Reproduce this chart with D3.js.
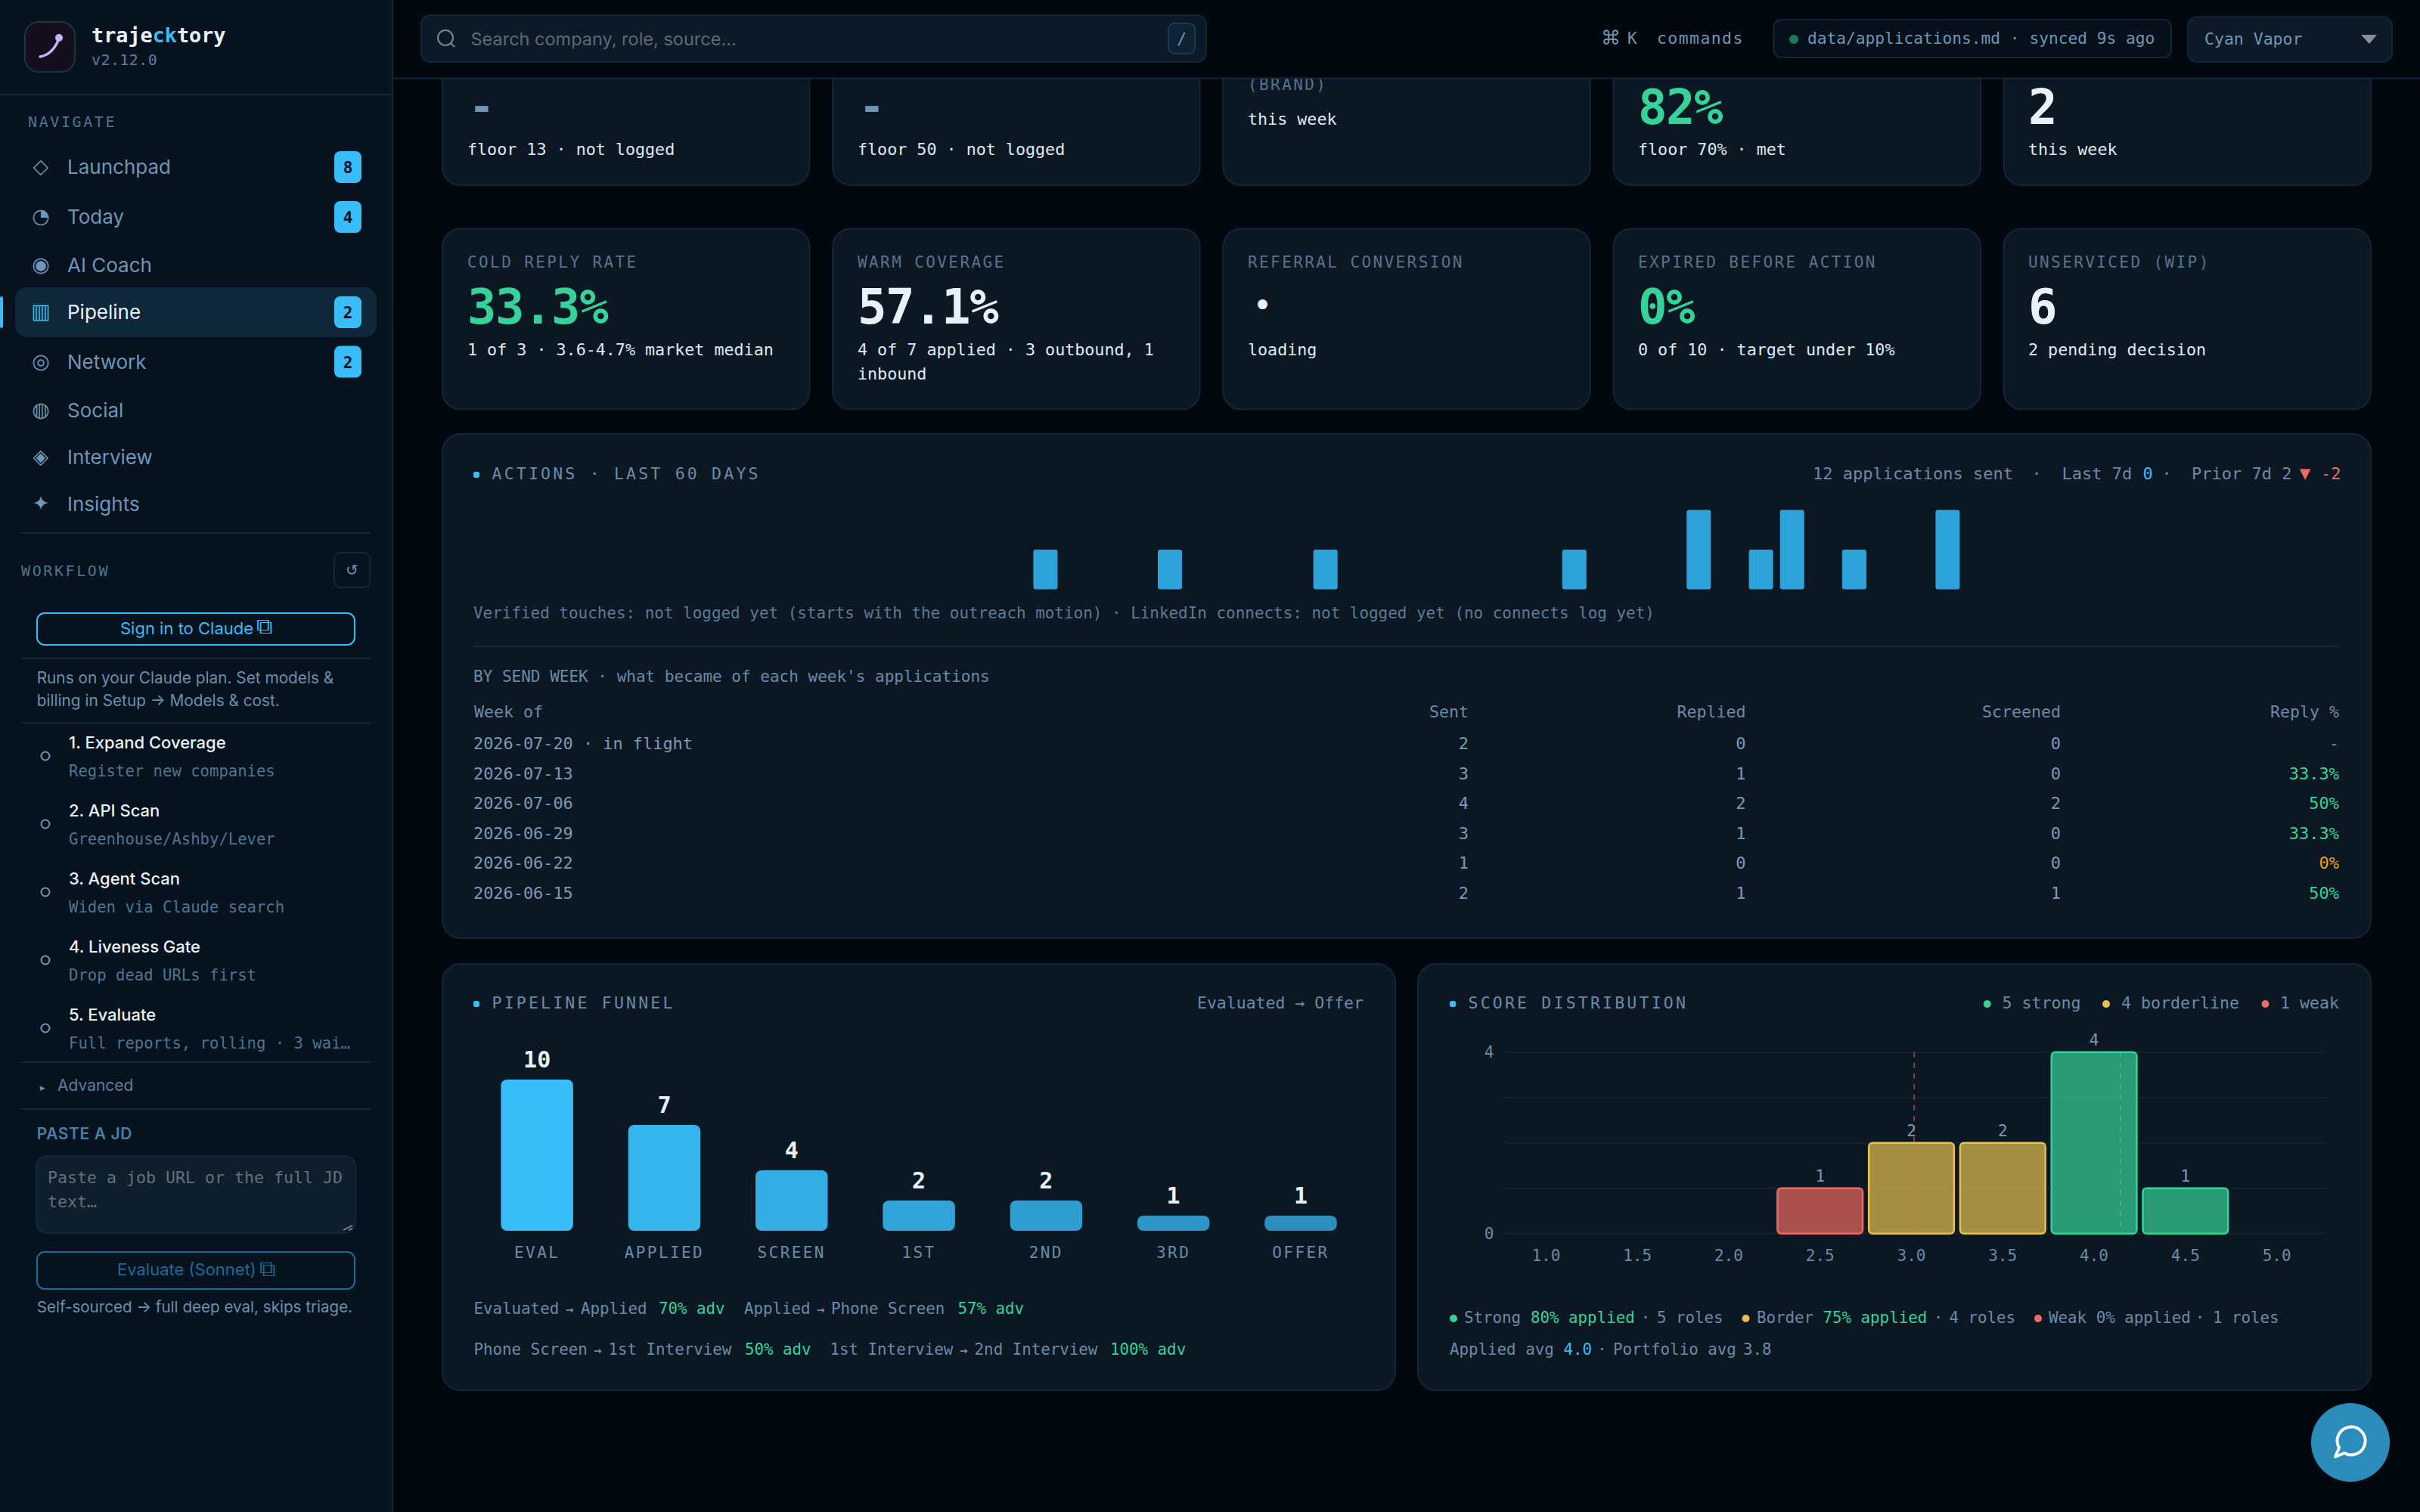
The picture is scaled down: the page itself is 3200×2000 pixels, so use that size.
<!doctype html>
<html>
<head>
<meta charset="utf-8">
<title>trajecktory</title>
<script src="https://cdn.jsdelivr.net/npm/d3@7/dist/d3.min.js"></script>
<style>
  html, body { margin: 0; padding: 0; background: #03080e; }
  svg { display: block; }
</style>
</head>
<body>
<div id="app"></div>
<script>
// chart values
const dailyActions = [0,0,0,0,0,0,0,0,0,0,0,0,0,0,0,0,0,0,1,0,0,0,1,0,0,0,0,1,0,0,0,0,0,0,0,1,0,0,0,2,0,1,2,0,1,0,0,2,0,0,0,0,0,0,0,0,0,0,0,0];
const weekLabels = ["2026-07-20 · in flight","2026-07-13","2026-07-06","2026-06-29","2026-06-22","2026-06-15"];
const weekSent = [2,3,4,3,1,2];
const weekReplied = [0,1,2,1,0,1];
const weekScreened = [0,0,2,0,0,1];
const weekReply = ["-","33.3%","50%","33.3%","0%","50%"];
const funnelStages = ["EVAL","APPLIED","SCREEN","1ST","2ND","3RD","OFFER"];
const funnelValues = [10,7,4,2,2,1,1];
const scoreBins = ["1.0","1.5","2.0","2.5","3.0","3.5","4.0","4.5","5.0"];
const scoreCounts = [0,0,0,1,2,2,4,1,0];
const scoreBands = ["none","none","none","weak","border","border","strong","strong","none"];
const scoreRefLines = [3.015,4.145];
const navLabels = ["Launchpad","Today","AI Coach","Pipeline","Network","Social","Interview","Insights"];
const navGlyphs = ["◇","◔","◉","▥","◎","◍","◈","✦"];
const navBadges = [8,4,null,2,2,null,null,null];
const stepTitles = ["1. Expand Coverage","2. API Scan","3. Agent Scan","4. Liveness Gate","5. Evaluate"];
const stepSubs = ["Register new companies","Greenhouse/Ashby/Lever","Widen via Claude search","Drop dead URLs first","Full reports, rolling · 3 wai…"];

const MONO = '"DejaVu Sans Mono", monospace', SANS = 'Inter, sans-serif', SYM = '"DejaVu Sans"';
const BLUE = "#38bdf8", GREEN = "#34d399", YELLOW = "#e6c14f", RED = "#ee6a62", ORANGE = "#f59e0b";
const MUTED = "#6b8aa6", DIM = "#56728c", NAVC = "#6f96b5", LIGHT = "#dfe9f2", WHITE = "#e8f1f8";
const CARD = "#0b1824", EDGE = "#13253a";
const bandColor = {weak: RED, border: YELLOW, strong: GREEN, none: MUTED};

const svg = d3.select("#app").append("svg").attr("width", 3200).attr("height", 2000);

function txt(parent, x, y, s, o) {
  o = o || {};
  return parent.append("text").attr("x", x).attr("y", y).text(s)
    .attr("fill", o.c || MUTED)
    .attr("font-family", o.f || MONO)
    .attr("font-size", o.s || 21)
    .attr("font-weight", o.w || 400)
    .attr("text-anchor", o.a || "start")
    .style("letter-spacing", o.ls ? o.ls + "px" : null);
}
function box(parent, x0, y0, x1, y1, r, fill, stroke, sw) {
  return parent.append("rect").attr("x", x0).attr("y", y0).attr("width", x1 - x0).attr("height", y1 - y0)
    .attr("rx", r).attr("fill", fill).attr("stroke", stroke || "none").attr("stroke-width", sw || 2);
}
function hline(parent, x0, x1, y, c) {
  parent.append("line").attr("x1", x0).attr("x2", x1).attr("y1", y).attr("y2", y)
    .attr("stroke", c || EDGE).attr("stroke-width", 2);
}
function seq(parent, y, parts, size) {
  parts.forEach(p => txt(parent, p[0], y, p[1], {c: p[2] || MUTED, s: p[3] || size || 20.8, a: p[4], w: p[5]}));
}
function cardTitle(parent, x, y, s) {
  box(parent, x, y - 10, x + 8, y - 2, 2.5, BLUE);
  txt(parent, x + 24.5, y, s, {s: 21.5, ls: 3.2, c: MUTED});
}

// KPI cards
const main = svg.append("g");
const cardX = d3.scaleBand().domain(d3.range(5)).range([585, 3135]).paddingInner(0.0597).paddingOuter(0);
d3.range(5).forEach(i => {
  box(main, cardX(i), -40, cardX(i) + cardX.bandwidth(), 245, 24, CARD, EDGE);
  box(main, cardX(i), 302.5, cardX(i) + cardX.bandwidth(), 541.5, 24, CARD, EDGE);
});
const bigVal = (x, y, s, c) => txt(main, x, y, s, {s: 64, w: 700, c: c, ls: -1.5});
const dashVal = (x) => txt(main, x, 160, "-", {s: 56, w: 700, c: NAVC});
const kpiSub = (x, y, s) => txt(main, x, y, s, {s: 21.7, c: LIGHT});
const kpiLabel = (x, s) => txt(main, x, 353.5, s, {s: 21, ls: 2.4, c: DIM});
dashVal(620); kpiSub(618, 205, "floor 13 · not logged");
dashVal(1136); kpiSub(1134, 205, "floor 50 · not logged");
txt(main, 1650, 119, "(BRAND)", {s: 21, ls: 2.4, c: DIM}); kpiSub(1650, 165, "this week");
bigVal(2166, 164, "82%", GREEN); kpiSub(2166, 205, "floor 70% · met");
bigVal(2682, 164, "2", WHITE); kpiSub(2682, 205, "this week");

kpiLabel(618, "COLD REPLY RATE"); bigVal(618, 427.5, "33.3%", GREEN); kpiSub(618, 470, "1 of 3 · 3.6-4.7% market median");
kpiLabel(1134, "WARM COVERAGE"); bigVal(1134, 427.5, "57.1%", WHITE); kpiSub(1134, 470, "4 of 7 applied · 3 outbound, 1"); kpiSub(1134, 502, "inbound");
kpiLabel(1650, "REFERRAL CONVERSION"); txt(main, 1669.6, 419, "•", {s: 44, a: "middle", c: WHITE}); kpiSub(1650, 470, "loading");
kpiLabel(2166, "EXPIRED BEFORE ACTION"); bigVal(2166, 427.5, "0%", GREEN); kpiSub(2166, 470, "0 of 10 · target under 10%");
kpiLabel(2682, "UNSERVICED (WIP)"); bigVal(2682, 427.5, "6", WHITE); kpiSub(2682, 470, "2 pending decision");

// actions card
box(main, 585, 574, 3135, 1241, 24, CARD, EDGE);
cardTitle(main, 626, 634, "ACTIONS · LAST 60 DAYS");
seq(main, 634, [[2397,"12 applications sent"],[2693,"·",MUTED,22,"middle"],[2726.5,"Last 7d"],[2833.5,"0",BLUE],[2865,"·",MUTED,22,"middle"],[2898,"Prior 7d 2"],[3048,"▼",RED,24,"middle"],[3069,"-2",RED]], 22);

const dayX = d3.scaleBand().domain(d3.range(dailyActions.length)).range([626, 3085]).paddingInner(0.222).paddingOuter(0);
const dayY = d3.scaleLinear().domain([0, 2]).range([779.5, 674.5]);
main.append("g").selectAll("rect").data(dailyActions.map((v, i) => ({v, i})).filter(d => d.v > 0)).join("rect")
  .attr("x", d => dayX(d.i)).attr("y", d => dayY(d.v))
  .attr("width", dayX.bandwidth()).attr("height", d => dayY(0) - dayY(d.v))
  .attr("rx", 3).attr("fill", "#2ea3da");

txt(main, 626, 818, "Verified touches: not logged yet (starts with the outreach motion) · LinkedIn connects: not logged yet (no connects log yet)", {s: 20.93, c: "#5a7a95"});
hline(main, 626, 3094, 855);
txt(main, 626, 902, "BY SEND WEEK · what became of each week's applications", {s: 21});

// weekly table
const rowY = d3.scalePoint().domain(d3.range(weekLabels.length)).range([991, 1189]);
const replyColor = s => s === "-" ? MUTED : s === "0%" ? ORANGE : GREEN;
txt(main, 627, 949, "Week of", {s: 21.6});
[["Sent",1942,weekSent],["Replied",2308.6,weekReplied],["Screened",2725,weekScreened],["Reply %",3093,weekReply]].forEach(col => {
  txt(main, col[1], 949, col[0], {s: 21.6, a: "end"});
  col[2].forEach((v, i) => txt(main, col[1], rowY(i), v, {s: 22, a: "end", c: col[2] === weekReply ? replyColor(v) : "#7c9ab5"}));
});
weekLabels.forEach((s, i) => txt(main, 626, rowY(i), s, {s: 21.9, c: "#7c9ab5"}));

// pipeline funnel
box(main, 585, 1275, 1845, 1839, 24, CARD, EDGE);
cardTitle(main, 626, 1334, "PIPELINE FUNNEL");
txt(main, 1803, 1334, "Evaluated → Offer", {s: 21.5, a: "end"});
const funX = d3.scaleBand().domain(funnelStages).range([662.4, 1767.7]).paddingInner(0.4326).paddingOuter(0);
const funY = d3.scaleLinear().domain([0, 10]).range([1628, 1428]);
const funOp = d3.scaleLinear().domain([0, funnelStages.length - 1]).range([1, 0.72]);
main.append("g").selectAll("rect").data(funnelStages).join("rect")
  .attr("x", d => funX(d)).attr("width", funX.bandwidth())
  .attr("y", (d, i) => funY(funnelValues[i])).attr("height", (d, i) => funY(0) - funY(funnelValues[i]))
  .attr("rx", 8).attr("fill", BLUE).attr("opacity", (d, i) => funOp(i));
funnelStages.forEach((d, i) => {
  const cx = funX(d) + funX.bandwidth() / 2;
  txt(main, cx, funY(funnelValues[i]) - 16.5, funnelValues[i], {s: 30, w: 700, a: "middle", c: WHITE});
  txt(main, cx, 1664, d, {s: 21, ls: 2.4, a: "middle", c: MUTED});
});
const arrow = (x) => [x, "→", MUTED, 17, "middle", 700];
seq(main, 1738, [[626.5,"Evaluated"],arrow(753),[768,"Applied"],[871,"70% adv",GREEN],[984,"Applied"],arrow(1085),[1099,"Phone Screen"],[1266.5,"57% adv",GREEN]]);
seq(main, 1792, [[626.5,"Phone Screen"],arrow(790),[804.5,"1st Interview"],[985,"50% adv",GREEN],[1097.5,"1st Interview"],arrow(1274),[1288.6,"2nd Interview"],[1468,"100% adv",GREEN]]);

// score distribution
box(main, 1875, 1275, 3135, 1839, 24, CARD, EDGE);
cardTitle(main, 1917, 1334, "SCORE DISTRIBUTION");
const dot = (x, y, c) => main.append("circle").attr("cx", x).attr("cy", y).attr("r", 5).attr("fill", c);
dot(2627.7, 1328, GREEN); dot(2785, 1328, YELLOW); dot(2995.5, 1328, RED);
seq(main, 1334, [[2647.5,"5 strong"],[2805,"4 borderline"],[3015,"1 weak"]], 21.6);

const scoreX = d3.scaleBand().domain(scoreBins).range([1984, 3071]).paddingInner(0.067).paddingOuter(0.0335);
const scoreY = d3.scaleLinear().domain([0, 4]).range([1631.8, 1391.7]);
const scoreLin = d3.scaleLinear().domain([1, 5]).range([scoreX("1.0") + scoreX.bandwidth() / 2, scoreX("5.0") + scoreX.bandwidth() / 2]);
const plot = main.append("g");
plot.selectAll("line.grid").data(d3.range(5)).join("line").attr("class", "grid")
  .attr("x1", 1988.5).attr("x2", 3076).attr("y1", d => scoreY(d)).attr("y2", d => scoreY(d))
  .attr("stroke", "#15232f").attr("stroke-width", 2);
const yAxis = plot.append("g").attr("transform", "translate(1988.5,0)")
  .call(d3.axisLeft(scoreY).tickValues([0, 4]).tickFormat(d3.format("d")).tickSize(0).tickPadding(13));
const xAxis = plot.append("g").attr("transform", "translate(0,1631.8)")
  .call(d3.axisBottom(scoreX).tickSize(0).tickPadding(21));
[yAxis, xAxis].forEach(a => {
  a.select(".domain").remove();
  a.selectAll("text").attr("fill", MUTED).attr("font-family", MONO).attr("font-size", 21);
});
const present = scoreBins.map((b, i) => ({b, v: scoreCounts[i], k: scoreBands[i]})).filter(d => d.v > 0);
plot.append("g").selectAll("rect").data(present).join("rect")
  .attr("x", d => scoreX(d.b)).attr("width", scoreX.bandwidth())
  .attr("y", d => scoreY(d.v)).attr("height", d => scoreY(0) - scoreY(d.v))
  .attr("rx", 5).attr("fill", d => d3.color(bandColor[d.k]).copy({opacity: 0.7})).attr("stroke", d => bandColor[d.k]).attr("stroke-width", 2.5);
scoreRefLines.forEach((v, i) => {
  plot.append("line").attr("x1", scoreLin(v)).attr("x2", scoreLin(v)).attr("y1", scoreY(4)).attr("y2", scoreY(0) - 6)
    .attr("stroke", i === 0 ? RED : GREEN).attr("stroke-opacity", 0.5).attr("stroke-width", 2).attr("stroke-dasharray", "7 7");
});
present.forEach(d => txt(plot, scoreX(d.b) + scoreX.bandwidth() / 2, scoreY(d.v) - 9, d.v, {s: 21, a: "middle", c: "#7c9ab5"}));

dot(1922, 1744, GREEN); dot(2308.5, 1744, YELLOW); dot(2695, 1744, RED);
seq(main, 1750, [[1936,"Strong"],[2024,"80% applied",GREEN],[2176,"·",MUTED,20.8,"middle"],[2191,"5 roles"],
  [2323,"Border"],[2410.5,"75% applied",GREEN],[2563,"·",MUTED,20.8,"middle"],[2577.5,"4 roles"],
  [2709,"Weak"],[2771.7,"0% applied"],[2909,"·",MUTED,20.8,"middle"],[2926,"1 roles"]]);
seq(main, 1792, [[1917,"Applied avg"],[2067.5,"4.0",BLUE],[2118.5,"·",MUTED,20.8,"middle"],[2133,"Portfolio avg"],[2305,"3.8"]]);

// chat button
const chat = svg.append("g").attr("transform", "translate(3108,1908)");
chat.append("circle").attr("r", 52).attr("fill", "#2b8cba");
chat.append("path").attr("d", "M-20 19 L-15 7 A18.5 18.5 0 1 1 -8 14 Z").attr("fill", "none").attr("stroke", "#f4fafd").attr("stroke-width", 4).attr("stroke-linejoin", "round");

// top bar
const topbar = svg.append("g");
topbar.append("rect").attr("x", 520).attr("y", 0).attr("width", 2680).attr("height", 103).attr("fill", "#03080e");
hline(topbar, 520, 3200, 103.5, "#13263a");
box(topbar, 557, 20, 1595, 82, 12, "#0c1a27", EDGE);
topbar.append("circle").attr("cx", 589).attr("cy", 50).attr("r", 10).attr("fill", "none").attr("stroke", "#7b8791").attr("stroke-width", 2);
topbar.append("line").attr("x1", 596).attr("y1", 57).attr("x2", 601).attr("y2", 62).attr("stroke", "#7b8791").attr("stroke-width", 2);
txt(topbar, 622.5, 60, "Search company, role, source...", {f: SANS, s: 23.5, c: "#5b6a74"});
box(topbar, 1545, 31, 1580, 71, 8, "#0e2233", "#1c3a52");
txt(topbar, 1562.5, 59, "/", {s: 21, a: "middle", c: NAVC});
txt(topbar, 2117, 59, "⌘", {f: SYM, s: 26, c: NAVC});
txt(topbar, 2152, 58, "K", {s: 21, c: NAVC});
txt(topbar, 2191, 58, "commands", {s: 21.5, ls: 1.4, c: NAVC});
box(topbar, 2345.5, 26, 2871, 76, 10, "#05101a", EDGE);
topbar.append("circle").attr("cx", 2372).attr("cy", 52).attr("r", 6).attr("fill", "#1f7a5c");
txt(topbar, 2390, 58, "data/applications.md · synced 9s ago", {s: 21.2, c: NAVC});
box(topbar, 2893, 22.5, 3163, 82, 12, "#0c1a27", EDGE);
txt(topbar, 2915, 59, "Cyan Vapor", {s: 21.5, c: NAVC});
topbar.append("path").attr("d", "M3122 46 L3143 46 L3133 58 Z").attr("fill", "#8a8f98");

// sidebar
const side = svg.append("g");
side.append("rect").attr("width", 518).attr("height", 2000).attr("fill", "#06121e");
side.append("line").attr("x1", 519).attr("x2", 519).attr("y1", 0).attr("y2", 2000).attr("stroke", "#13263a").attr("stroke-width", 2);
box(side, 33, 29, 99, 95, 18, "#140f1c", "#1c3348");
side.append("path").attr("d", "M53 75 Q70 72 78 51").attr("fill", "none").attr("stroke", "#c4b5fd").attr("stroke-width", 3.5).attr("stroke-linecap", "round");
side.append("circle").attr("cx", 78).attr("cy", 50).attr("r", 5).attr("fill", "#c4b5fd");
const brand = txt(side, 121, 56, "traje", {s: 26.8, w: 700, c: WHITE});
brand.append("tspan").text("ck").attr("fill", BLUE);
brand.append("tspan").text("tory");
txt(side, 121, 86, "v2.12.0", {s: 20, ls: 0.4, c: "#5a7f9b"});
hline(side, 0, 518, 125);
txt(side, 37, 168, "NAVIGATE", {s: 20, ls: 2.6, c: "#4d7590"});

const navBase = [230, 296, 360, 422, 487.5, 552, 614, 676];
box(side, 20, 380, 498, 446, 16, "#0e2739");
side.append("rect").attr("x", 0).attr("y", 392).attr("width", 4).attr("height", 42).attr("rx", 2).attr("fill", BLUE);
navLabels.forEach((s, i) => {
  const on = s === "Pipeline";
  txt(side, 89, navBase[i], s, {f: SANS, s: 26, c: on ? WHITE : NAVC});
  txt(side, 54, navBase[i] - 1, navGlyphs[i], {f: SYM, s: 27, a: "middle", c: on ? BLUE : NAVC});
  if (navBadges[i] != null) {
    box(side, 442, navBase[i] - 30, 478, navBase[i] + 12, 8, BLUE);
    txt(side, 460, navBase[i] - 1, navBadges[i], {s: 21, w: 700, a: "middle", c: "#04111d"});
  }
});

hline(side, 28, 490, 705);
txt(side, 28, 762, "WORKFLOW", {s: 20, ls: 2.6, c: "#4d7590"});
box(side, 442, 731, 489, 777, 8, "none", EDGE);
txt(side, 465.5, 761, "↺", {f: SYM, s: 20, a: "middle", c: NAVC});
box(side, 49, 811, 469, 853, 10, "none", BLUE, 2);
txt(side, 159, 839, "Sign in to Claude", {f: SANS, s: 22, c: BLUE});
txt(side, 349, 838, "⧉", {f: SYM, s: 30, a: "middle", c: BLUE});
hline(side, 28, 490, 871);
txt(side, 48.7, 904, "Runs on your Claude plan. Set models &", {f: SANS, s: 20.8, c: "#6a90ad"});
txt(side, 48.7, 934, "billing in Setup → Models & cost.", {f: SANS, s: 20.8, c: "#6a90ad"});
hline(side, 28, 490, 956.5);

const stepY = d3.scalePoint().domain(d3.range(stepTitles.length)).range([990, 1350]);
stepTitles.forEach((s, i) => {
  side.append("circle").attr("cx", 60).attr("cy", stepY(i) + 10).attr("r", 5.5).attr("fill", "none").attr("stroke", NAVC).attr("stroke-width", 2);
  txt(side, 91, stepY(i), s, {f: SANS, s: 22, w: 500, c: WHITE});
  txt(side, 91, stepY(i) + 37, stepSubs[i], {s: 20.6, c: "#4d7590"});
});
hline(side, 28, 490, 1405);
txt(side, 53, 1443, "▸", {f: SYM, s: 13, c: NAVC});
txt(side, 76, 1443, "Advanced", {f: SANS, s: 21, c: "#5a7f9b"});
hline(side, 28, 490, 1467);
txt(side, 48.7, 1507, "PASTE A JD", {f: SANS, s: 21, w: 600, ls: 0.6, c: "#4d7e9f"});
box(side, 48, 1529, 470, 1631, 14, "#0e1e2d", EDGE);
txt(side, 63, 1565, "Paste a job URL or the full JD", {s: 21.6, c: "#667077"});
txt(side, 63, 1597, "text…", {s: 21.6, c: "#667077"});
side.append("path").attr("d", "M454 1627 L466 1621 M461 1627 L466 1625").attr("stroke", "#8a8f98").attr("stroke-width", 1.5);
box(side, 49, 1656, 469, 1705, 10, "none", "#1d6a96", 2);
txt(side, 155, 1687, "Evaluate (Sonnet)", {f: SANS, s: 22, c: "#1d6a96"});
txt(side, 353, 1688, "⧉", {f: SYM, s: 30, a: "middle", c: "#1d6a96"});
txt(side, 48.7, 1735.5, "Self-sourced → full deep eval, skips triage.", {f: SANS, s: 20.6, c: "#6a90ad"});
</script>
</body>
</html>
